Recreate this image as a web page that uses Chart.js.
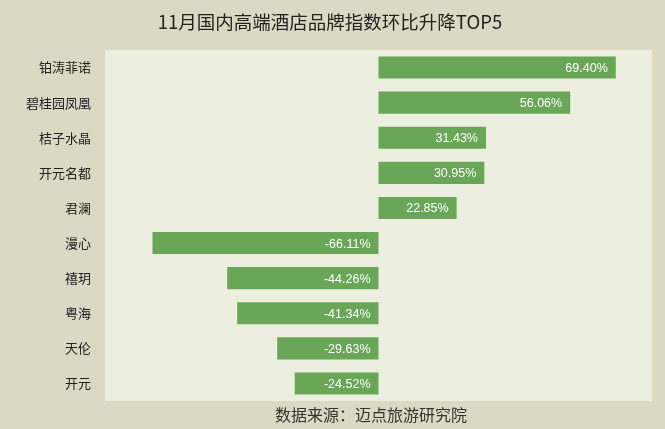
<!DOCTYPE html>
<html>
<head>
<meta charset="utf-8">
<script src="https://cdn.jsdelivr.net/npm/chart.js@4"></script>
<style>
  html, body { margin: 0; padding: 0; background: #ddd8c4; }
  #wrap { width: 665px; height: 429px; position: relative; }
</style>
</head>
<body>
<div id="wrap"><canvas id="myChart"></canvas></div>
<script>
const brands = ['铂涛菲诺', '碧桂园凤凰', '桔子水晶', '开元名都', '君澜', '漫心', '禧玥', '粤海', '天伦', '开元'];
const changeValues = [69.40, 56.06, 31.43, 30.95, 22.85, -66.11, -44.26, -41.34, -29.63, -24.52];
const titleText = '11月国内高端酒店品牌指数环比升降TOP5';
const sourceText = '数据来源：迈点旅游研究院';

// plot background + value labels
const decor = {
  id: 'decor',
  beforeDraw(chart) {
    const { ctx, chartArea: a } = chart;
    ctx.save();
    ctx.fillStyle = '#ecefdf';
    ctx.fillRect(a.left, a.top, a.right - a.left, a.bottom - a.top);
    ctx.restore();
  },
  afterDatasetsDraw(chart) {
    const { ctx } = chart;
    const meta = chart.getDatasetMeta(0);
    ctx.save();
    ctx.font = '12.5px "Liberation Sans", Arial, sans-serif';
    ctx.fillStyle = '#ffffff';
    ctx.textAlign = 'right';
    ctx.textBaseline = 'middle';
    meta.data.forEach((bar, i) => {
      const v = changeValues[i];
      const right = Math.max(bar.x, bar.base);
      ctx.fillText(v.toFixed(2) + '%', right - 8, bar.y + 1);
    });
    ctx.restore();
  },
  afterDraw(chart) {
    const { ctx } = chart;
    ctx.save();
    ctx.fillStyle = '#222';
    ctx.textAlign = 'center';
    ctx.textBaseline = 'middle';
    ctx.font = '18.5px "Noto Sans CJK SC", sans-serif';
    ctx.fillText(titleText, 330, 22);
    ctx.font = '16px "Noto Sans CJK SC", sans-serif';
    ctx.fillStyle = '#333';
    ctx.fillText(sourceText, 371, 415);
    ctx.restore();
  }
};

const data = {
  labels: brands,
  datasets: [{
    data: changeValues,
    backgroundColor: '#69a657',
    borderWidth: 0,
    categoryPercentage: 0.63,
    barPercentage: 1
  }]
};

const config = {
  type: 'bar',
  data,
  options: {
    indexAxis: 'y',
    responsive: false,
    animation: false,
    layout: { padding: { top: 50, bottom: 28, left: 0, right: 13 } },
    plugins: {
      legend: { display: false },
      tooltip: { enabled: false }
    },
    scales: {
      x: {
        min: -80,
        max: 80,
        display: false
      },
      y: {
        grid: { display: false, drawTicks: false },
        border: { display: false },
        ticks: {
          color: '#222',
          font: { family: '"Noto Sans CJK SC", sans-serif', size: 13 },
          padding: 14
        },
        afterFit(scale) { scale.width = 105; }
      }
    }
  },
  plugins: [decor]
};

const canvas = document.getElementById('myChart');
canvas.width = 665;
canvas.height = 429;
canvas.style.width = '665px';
canvas.style.height = '429px';
new Chart(canvas, config);
</script>
</body>
</html>
